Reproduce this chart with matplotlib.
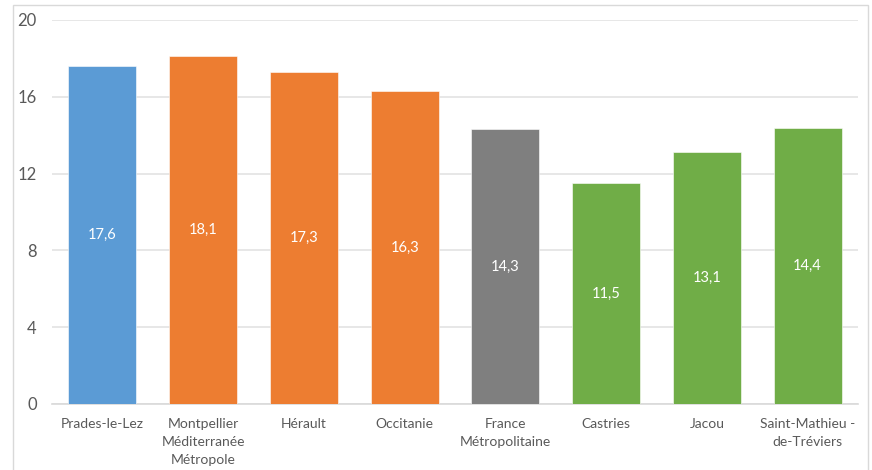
import matplotlib.pyplot as plt
from matplotlib.patches import Rectangle

categories = ['Prades-le-Lez', 'Montpellier\nMéditerranée\nMétropole', 'Hérault', 'Occitanie',
              'France\nMétropolitaine', 'Castries', 'Jacou', 'Saint-Mathieu -\nde-Tréviers']
values = [17.6, 18.1, 17.3, 16.3, 14.3, 11.5, 13.1, 14.4]
bar_colors = ['#5B9BD5', '#ED7D31', '#ED7D31', '#ED7D31', '#7F7F7F', '#70AD47', '#70AD47', '#70AD47']
y_ticks = [0, 4, 8, 12, 16, 20]

plt.rcParams['font.family'] = ['Lato', 'DejaVu Sans']
text_col = '#595959'

fig = plt.figure(figsize=(8.72, 4.7), dpi=100)
ax = fig.add_axes([52 / 872, 1 - 404 / 470, (858 - 52) / 872, (404 - 20) / 470])

x = range(len(values))
bars = ax.bar(x, values, width=0.675, color=bar_colors, edgecolor='white', linewidth=0.4, zorder=3)
for b, v in zip(bars, values):
    ax.text(b.get_x() + b.get_width() / 2, v / 2, f'{v:.1f}'.replace('.', ','),
            ha='center', va='center', color='white', fontsize=10.5, zorder=4)

ax.set_xlim(-0.5, len(values) - 0.5)
ax.set_ylim(0, 20)
ax.set_yticks(y_ticks)
ax.set_yticklabels([str(t) for t in y_ticks])
ax.yaxis.grid(True, color='#E3E3E3', linewidth=1.2, zorder=0)
ax.set_xticks(list(x))
ax.set_xticklabels(categories, linespacing=1.6, va='top')
ax.tick_params(axis='x', length=0, pad=10, labelsize=10, labelcolor=text_col)
ax.tick_params(axis='y', length=0, pad=11, labelsize=12, labelcolor=text_col)
for s in ['top', 'right', 'left']:
    ax.spines[s].set_visible(False)
ax.spines['bottom'].set_color('#D9D9D9')
ax.spines['bottom'].set_linewidth(1.2)

# outer frame of the chart
fig.patches.append(Rectangle((13 / 872, -0.05), (868 - 13) / 872, 1 - 5 / 470 + 0.05,
                             transform=fig.transFigure, fill=False, edgecolor='#D9D9D9', linewidth=1))

fig.savefig('out.png', dpi=100, facecolor='white')
